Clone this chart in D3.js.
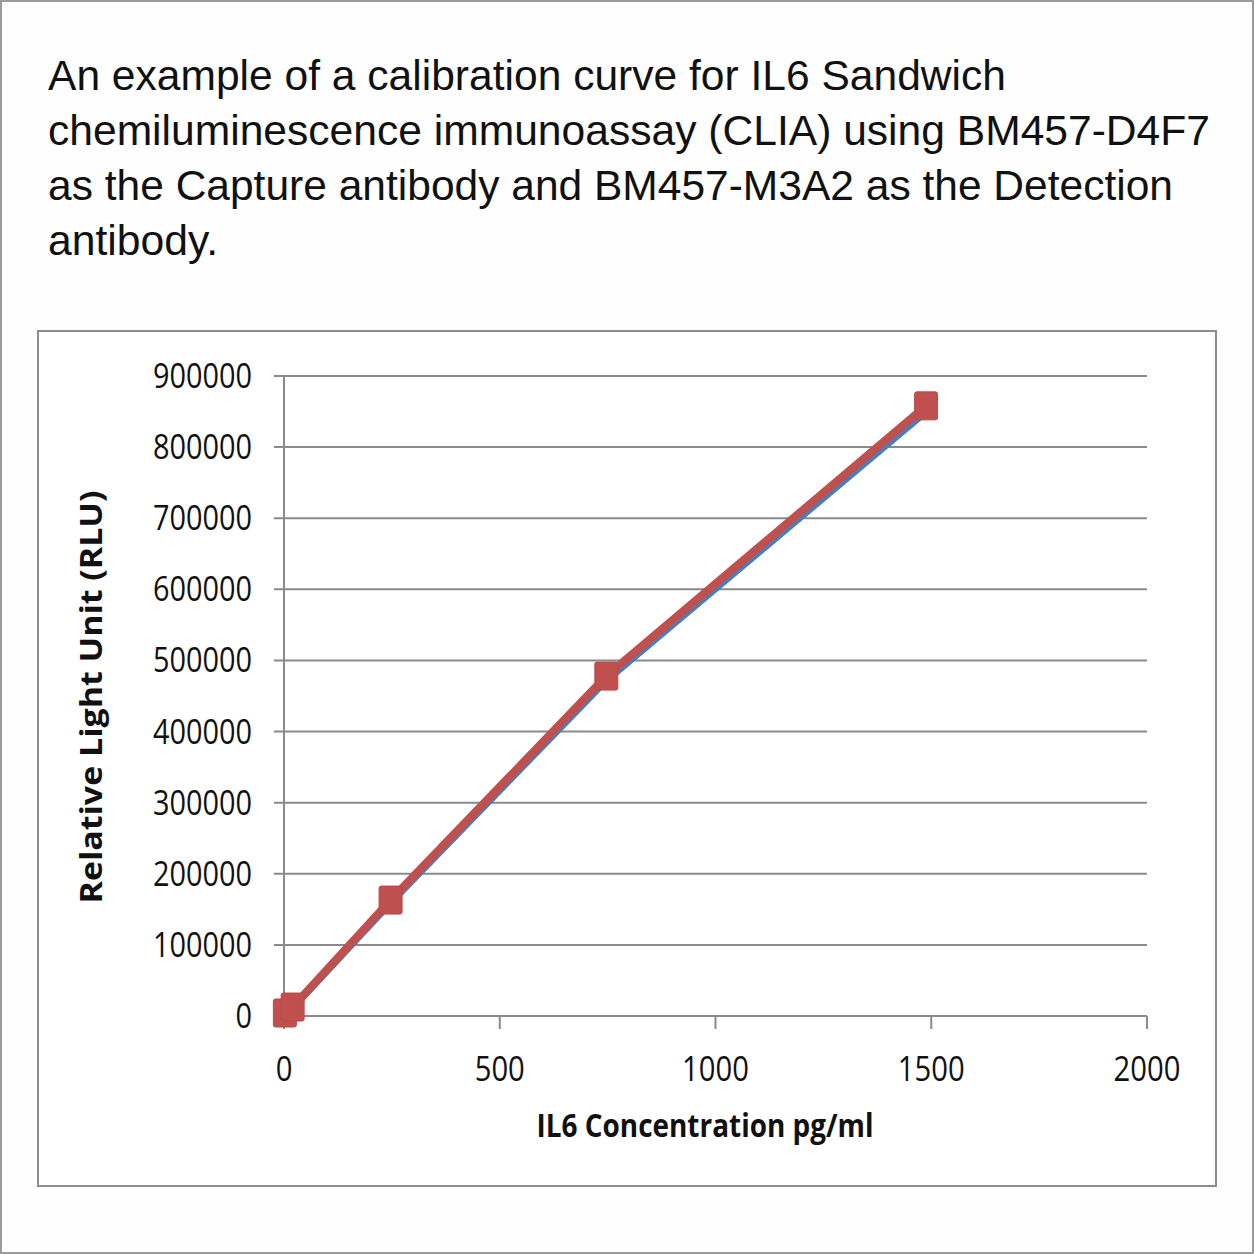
<!DOCTYPE html>
<html><head><meta charset="utf-8">
<script src="https://cdn.jsdelivr.net/npm/d3@7"></script>
<style>html,body{margin:0;padding:0;background:#fff;}svg{display:block;}</style>
</head><body>
<script>
const titleLines = [
  "An example of a calibration curve for IL6 Sandwich",
  "chemiluminescence immunoassay (CLIA) using BM457-D4F7",
  "as the Capture antibody and BM457-M3A2 as the Detection",
  "antibody."
];
const titleWidths = [958, 1162, 1125, 170];
const concentrations = [2, 20, 247, 747, 1488];
const rluSeriesRed = [4200, 12600, 163000, 478000, 858000];
const rluSeriesBlue = [1000, 9000, 157000, 470000, 848000];
const xTicks = [0, 500, 1000, 1500, 2000];
const yTicks = [0,100000,200000,300000,400000,500000,600000,700000,800000,900000];
const xTitle = "IL6 Concentration pg/ml";
const yTitle = "Relative Light Unit (RLU)";

const W = 1254, H = 1254;
const svg = d3.select("body").append("svg").attr("width", W).attr("height", H);
svg.append("rect").attr("x",1).attr("y",1).attr("width",W-2).attr("height",H-2)
  .attr("fill","#fefefe").attr("stroke","#9a9a9a").attr("stroke-width",2);

// title
titleLines.forEach((t,i)=>{
  svg.append("text").attr("x",48).attr("y",90+i*55)
    .attr("font-family","'Liberation Sans', Arial, sans-serif").attr("font-size",43)
    .attr("fill","#111")
    .attr("textLength",titleWidths[i]).attr("lengthAdjust","spacingAndGlyphs")
    .text(t);
});

// chart frame
svg.append("rect").attr("x",38).attr("y",331).attr("width",1178).attr("height",855)
  .attr("fill","#fff").attr("stroke","#8c8c8c").attr("stroke-width",2);

const x = d3.scaleLinear().domain([0,2000]).range([284,1147]);
const y = d3.scaleLinear().domain([0,900000]).range([1016,376]);

const grid = svg.append("g");
yTicks.forEach(v=>{
  grid.append("line").attr("x1",274).attr("x2",1147).attr("y1",y(v)).attr("y2",y(v))
    .attr("stroke","#8a8a8a").attr("stroke-width",2);
});
grid.append("line").attr("x1",x(0)).attr("x2",x(0)).attr("y1",y(900000)).attr("y2",y(0))
  .attr("stroke","#8a8a8a").attr("stroke-width",2);
xTicks.forEach(v=>{
  grid.append("line").attr("x1",x(v)).attr("x2",x(v)).attr("y1",y(0)).attr("y2",y(0)+13)
    .attr("stroke","#8a8a8a").attr("stroke-width",2);
});

const tickFont = "'Open Sans', 'Noto Sans', sans-serif";
yTicks.forEach(v=>{
  const s = String(v);
  svg.append("text").attr("x",252).attr("y",y(v)+12).attr("text-anchor","end")
    .attr("font-family",tickFont).attr("font-size",35).attr("fill","#111")
    .attr("textLength",s.length*16.5).attr("lengthAdjust","spacingAndGlyphs").text(s);
});
xTicks.forEach(v=>{
  const s = String(v);
  svg.append("text").attr("x",x(v)).attr("y",1081).attr("text-anchor","middle")
    .attr("font-family",tickFont).attr("font-size",35).attr("fill","#111")
    .attr("textLength",s.length*16.7).attr("lengthAdjust","spacingAndGlyphs").text(s);
});

svg.append("text").attr("x",705).attr("y",1137).attr("text-anchor","middle")
  .attr("font-family",tickFont).attr("font-weight","bold").attr("font-size",33).attr("fill","#111")
  .attr("textLength",337).attr("lengthAdjust","spacingAndGlyphs").text(xTitle);
svg.append("text").attr("transform","translate(102,697) rotate(-90)").attr("text-anchor","middle")
  .attr("font-family",tickFont).attr("font-weight","bold").attr("font-size",30).attr("fill","#111")
  .attr("textLength",413).attr("lengthAdjust","spacingAndGlyphs").text(yTitle);

const line = d3.line().x(d=>x(d[0])).y(d=>y(d[1]));
const blueData = concentrations.map((c,i)=>[c,rluSeriesBlue[i]]);
const redData = concentrations.map((c,i)=>[c,rluSeriesRed[i]]);
svg.append("path").datum(blueData).attr("d",line).attr("fill","none")
  .attr("stroke","#4a7ebb").attr("stroke-width",5).attr("stroke-linejoin","round");
svg.append("path").datum(redData).attr("d",line).attr("fill","none")
  .attr("stroke","#c0504d").attr("stroke-width",8).attr("stroke-linejoin","round");
svg.selectAll("rect.mk").data(redData).enter().append("rect").attr("class","mk")
  .attr("x",d=>x(d[0])-11.5).attr("y",d=>y(d[1])-14).attr("width",23).attr("height",28)
  .attr("rx",2).attr("fill","#c0504d").attr("stroke","#b84a47").attr("stroke-width",1);
</script>
</body></html>
